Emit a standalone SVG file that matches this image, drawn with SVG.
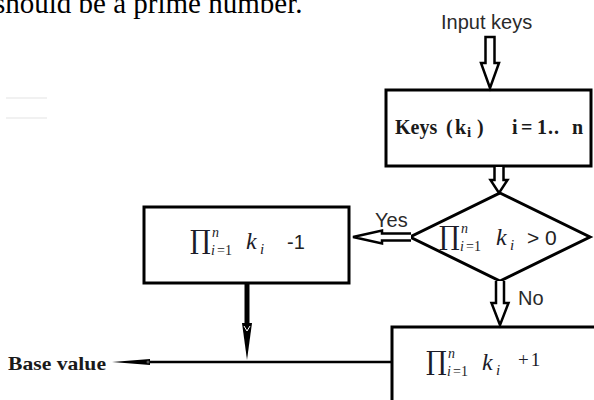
<svg xmlns="http://www.w3.org/2000/svg" width="594" height="400" viewBox="0 0 594 400">
<style>
.box{fill:#fff;stroke:#000;stroke-width:3}
.dbl{fill:#fff;stroke:#000;stroke-width:2.5;stroke-linejoin:miter}
.lbl{font-family:"Liberation Sans",Arial,sans-serif;font-size:20px;fill:#2a2a2a}
.bold{font-family:"Liberation Serif","Times New Roman",serif;font-weight:bold;fill:#1a1a1a}
.pi{font-family:"DejaVu Serif",serif;fill:#1c1c28}
.it{font-family:"Liberation Serif","Times New Roman",serif;font-style:italic;fill:#1c1c28}
.up{font-family:"Liberation Serif","Times New Roman",serif;fill:#1c1c28}
.ar{font-family:"Liberation Sans",Arial,sans-serif;fill:#222}
</style>
<rect width="594" height="400" fill="#fff"/>
<text x="-6" y="13" font-family="Liberation Serif,'Times New Roman',serif" font-size="29" fill="#000">should be a prime number.</text>
<g id="faint">
<line x1="6" y1="98" x2="47" y2="98" stroke="#f1f1f1" stroke-width="2"/>
<line x1="6" y1="118" x2="47" y2="118" stroke="#f1f1f1" stroke-width="2"/>
</g>
<g id="input">
<text class="lbl" x="441" y="29">Input keys</text>
</g>
<g id="keys">
<rect class="box" x="386" y="90" width="205" height="76"/>
<text class="bold" font-size="20" y="134"><tspan x="395">Keys</tspan><tspan x="446">(</tspan><tspan x="455">k</tspan><tspan x="467" dy="3" font-size="15">i</tspan><tspan x="477" dy="-3">)</tspan><tspan x="512">i</tspan><tspan x="521">=</tspan><tspan x="537">1</tspan><tspan x="548" letter-spacing="1">..</tspan><tspan x="572">n</tspan></text>
</g>
<g id="decision">
<polygon points="500,193 590,237 500,281 410,237" fill="#fff" stroke="#000" stroke-width="3"/>
<text><tspan class="pi" x="439" y="245" font-size="26">∏</tspan><tspan class="it" x="461" y="233" font-size="14">n</tspan><tspan class="it" x="460" y="251" font-size="14">i</tspan><tspan class="up" x="466" y="251" font-size="14">=1</tspan><tspan class="it" x="496" y="245" font-size="24">k</tspan><tspan class="it" x="510" y="250" font-size="15">i</tspan><tspan class="ar" x="527" y="245" font-size="21" fill="#333">&gt; 0</tspan></text>
</g>
<g id="minus">
<rect class="box" x="144" y="207" width="205" height="76"/>
<text><tspan class="pi" x="190" y="249" font-size="26">∏</tspan><tspan class="it" x="212" y="237" font-size="14">n</tspan><tspan class="it" x="211" y="255" font-size="14">i</tspan><tspan class="up" x="217" y="255" font-size="14">=1</tspan><tspan class="it" x="246" y="249" font-size="24">k</tspan><tspan class="it" x="260" y="254" font-size="15">i</tspan><tspan class="ar" x="287" y="249" font-size="20" fill="#111">-1</tspan></text>
</g>
<g id="plus">
<rect class="box" x="392" y="327" width="210" height="90"/>
<text><tspan class="pi" x="426" y="370" font-size="26">∏</tspan><tspan class="it" x="448" y="358" font-size="14">n</tspan><tspan class="it" x="447" y="376" font-size="14">i</tspan><tspan class="up" x="453" y="376" font-size="14">=1</tspan><tspan class="it" x="482" y="370" font-size="24">k</tspan><tspan class="it" x="496" y="375" font-size="15">i</tspan><tspan class="up" x="518" y="366" font-size="19" letter-spacing="2">+1</tspan></text>
</g>
<g id="base">
<text class="bold" x="8" y="370" font-size="19" textLength="98" lengthAdjust="spacingAndGlyphs">Base value</text>
</g>
<g id="connectors">
<path class="dbl" d="M485.5,37 L485.5,63 L481,63 L490,88 L499,63 L494.5,63 L494.5,37 Z"/>
<path class="dbl" d="M494.5,167 L494.5,180 L490.5,180 L499,193 L507.5,180 L503.5,180 L503.5,167"/>
<path class="dbl" d="M411,233.5 L382,233.5 L382,230.5 L353,237 L382,243.5 L382,240.5 L411,240.5"/>
<text class="lbl" x="375" y="227">Yes</text>
<path class="dbl" d="M496,281 L496,303 L491.5,303 L500,325 L508.5,303 L504,303 L504,281"/>
<text class="lbl" x="518" y="305">No</text>
<line x1="247" y1="283" x2="247" y2="325" stroke="#000" stroke-width="5"/>
<polygon points="242,323 252,323 247,360" fill="#000"/>
<path d="M244,326 L247,331 L250,326" fill="none" stroke="#fff" stroke-width="1"/>
<line x1="150" y1="362" x2="392" y2="362" stroke="#000" stroke-width="2.5"/>
<polygon points="112,362 150,359 150,365" fill="#000"/>
<circle cx="148" cy="362" r="1.5" fill="#555"/>
</g>
</svg>
